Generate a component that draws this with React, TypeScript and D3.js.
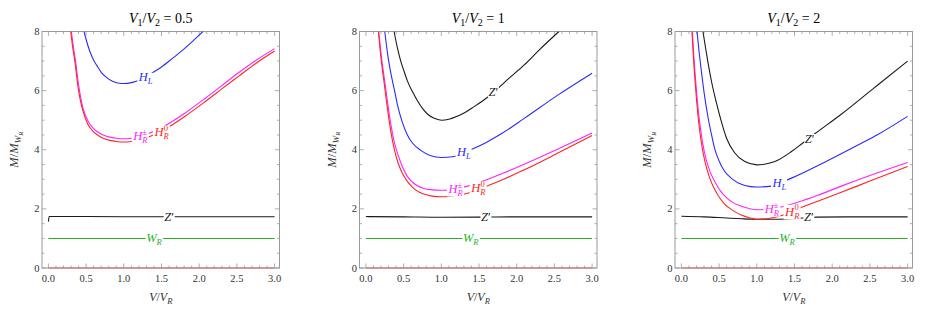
import * as d3 from "d3";
import { useEffect, useRef } from "react";

type Pt = [number, number];
type LabelKind = "HL" | "HRpm" | "HR0" | "Zp" | "WR";
interface CurveLabel {
  kind: LabelKind;
  x: number;
  y: number;
}

const ratios = ["0.5", "1", "2"];
const xTicks = [0, 0.5, 1, 1.5, 2, 2.5, 3];
const yTicks = [0, 2, 4, 6, 8];

// lines common to all panels
const zeroLine: Pt[] = [[0, 0], [3, 0]];
const wR: Pt[] = [[0, 1], [3, 1]];

// V1/V2 = 0.5
const hL05: Pt[] = [[0.473, 8.0], [0.5, 7.73], [0.548, 7.34], [0.6, 7.03], [0.637, 6.87], [0.7, 6.62], [0.769, 6.45], [0.85, 6.32], [0.92, 6.26], [1.0, 6.24], [1.1, 6.27], [1.165, 6.32], [1.25, 6.41], [1.385, 6.61], [1.5, 6.8], [1.65, 7.1], [1.8, 7.41], [1.9, 7.64], [2.0, 7.88], [2.05, 8.0]];
const hRpm05: Pt[] = [[0.305, 8.0], [0.33, 7.5], [0.36, 7.0], [0.4, 6.2], [0.43, 5.75], [0.46, 5.4], [0.52, 5.0], [0.59, 4.74], [0.68, 4.56], [0.77, 4.46], [0.88, 4.4], [1.0, 4.37], [1.1, 4.39], [1.2, 4.44], [1.3, 4.52], [1.4, 4.63], [1.58, 4.86], [1.8, 5.22], [2.09, 5.76], [2.3, 6.17], [2.53, 6.62], [2.75, 7.02], [3.0, 7.42]];
const hR0_05: Pt[] = [[0.297, 8.0], [0.32, 7.5], [0.35, 7.0], [0.394, 6.1], [0.425, 5.65], [0.46, 5.3], [0.52, 4.88], [0.59, 4.63], [0.68, 4.45], [0.77, 4.35], [0.88, 4.29], [1.0, 4.26], [1.1, 4.28], [1.2, 4.33], [1.3, 4.41], [1.4, 4.51], [1.58, 4.75], [1.8, 5.11], [2.09, 5.65], [2.3, 6.06], [2.53, 6.5], [2.75, 6.92], [3.0, 7.34]];
const zLow05: Pt[] = [[0, 1.57], [0.01, 1.74], [0.5, 1.74], [1.0, 1.735], [1.5, 1.735], [2.0, 1.735], [2.5, 1.735], [3.0, 1.735]];
const labels05: CurveLabel[] = [
  { kind: "HL", x: 1.29, y: 6.45 },
  { kind: "HRpm", x: 1.22, y: 4.45 },
  { kind: "HR0", x: 1.5, y: 4.6 },
  { kind: "Zp", x: 1.6, y: 1.73 },
  { kind: "WR", x: 1.4, y: 1.0 },
];

// V1/V2 = 1
const zHi1: Pt[] = [[0.374, 8.0], [0.42, 7.42], [0.462, 7.0], [0.5, 6.7], [0.55, 6.33], [0.62, 5.95], [0.683, 5.66], [0.75, 5.4], [0.816, 5.21], [0.9, 5.07], [1.0, 5.0], [1.1, 5.03], [1.21, 5.13], [1.32, 5.27], [1.43, 5.45], [1.6, 5.75], [1.745, 6.06], [1.9, 6.42], [2.1, 6.87], [2.3, 7.38], [2.56, 8.0]];
const hL1: Pt[] = [[0.25, 8.0], [0.29, 7.2], [0.33, 6.6], [0.38, 6.0], [0.42, 5.5], [0.48, 4.95], [0.55, 4.5], [0.62, 4.22], [0.727, 3.98], [0.86, 3.8], [1.0, 3.74], [1.17, 3.77], [1.39, 4.0], [1.59, 4.24], [1.79, 4.53], [2.1, 5.06], [2.54, 5.84], [3.0, 6.59]];
const hRpm1: Pt[] = [[0.17, 8.0], [0.205, 7.15], [0.245, 6.4], [0.285, 5.65], [0.335, 4.8], [0.385, 4.17], [0.43, 3.8], [0.48, 3.45], [0.55, 3.1], [0.62, 2.9], [0.683, 2.78], [0.77, 2.69], [0.86, 2.65], [1.0, 2.63], [1.1, 2.64], [1.2, 2.68], [1.35, 2.77], [1.59, 2.98], [1.85, 3.24], [2.1, 3.51], [2.54, 4.02], [3.0, 4.57]];
const hR0_1: Pt[] = [[0.166, 8.0], [0.2, 7.1], [0.24, 6.3], [0.28, 5.5], [0.33, 4.62], [0.38, 3.98], [0.418, 3.62], [0.48, 3.22], [0.55, 2.93], [0.62, 2.73], [0.683, 2.6], [0.77, 2.5], [0.86, 2.44], [1.0, 2.41], [1.1, 2.42], [1.2, 2.45], [1.35, 2.53], [1.59, 2.76], [1.85, 3.03], [2.1, 3.32], [2.54, 3.88], [3.0, 4.48]];
const zLow1: Pt[] = [[0, 1.74], [0.5, 1.73], [1.0, 1.715], [1.5, 1.72], [2.0, 1.73], [2.5, 1.73], [3.0, 1.73]];
const labels1: CurveLabel[] = [
  { kind: "Zp", x: 1.69, y: 5.97 },
  { kind: "HL", x: 1.3, y: 3.92 },
  { kind: "HRpm", x: 1.19, y: 2.67 },
  { kind: "HR0", x: 1.49, y: 2.7 },
  { kind: "Zp", x: 1.59, y: 1.72 },
  { kind: "WR", x: 1.39, y: 1.0 },
];

// V1/V2 = 2
const zHi2: Pt[] = [[0.286, 8.0], [0.32, 7.45], [0.353, 6.95], [0.4, 6.3], [0.463, 5.6], [0.53, 4.95], [0.6, 4.38], [0.706, 3.9], [0.84, 3.6], [1.0, 3.49], [1.1, 3.51], [1.24, 3.6], [1.46, 3.94], [1.61, 4.23], [1.77, 4.54], [2.12, 5.2], [2.56, 6.1], [3.0, 7.0]];
const hL2: Pt[] = [[0.207, 8.0], [0.235, 7.3], [0.265, 6.65], [0.3, 5.95], [0.353, 5.1], [0.4, 4.5], [0.44, 4.05], [0.5, 3.62], [0.57, 3.28], [0.68, 3.0], [0.795, 2.83], [0.9, 2.76], [1.0, 2.74], [1.19, 2.77], [1.46, 3.04], [1.9, 3.58], [2.4, 4.24], [2.6, 4.51], [3.0, 5.13]];
const hRpm2: Pt[] = [[0.145, 8.0], [0.165, 7.15], [0.185, 6.45], [0.205, 5.85], [0.225, 5.3], [0.25, 4.78], [0.28, 4.25], [0.33, 3.65], [0.39, 3.2], [0.46, 2.84], [0.52, 2.6], [0.57, 2.45], [0.68, 2.22], [0.795, 2.09], [0.9, 2.01], [1.0, 1.97], [1.2, 2.0], [1.35, 2.08], [1.55, 2.23], [1.8, 2.45], [2.12, 2.77], [2.5, 3.13], [3.0, 3.57]];
const hR0_2: Pt[] = [[0.14, 8.0], [0.16, 7.1], [0.18, 6.35], [0.2, 5.7], [0.22, 5.15], [0.242, 4.65], [0.275, 4.08], [0.31, 3.62], [0.37, 3.08], [0.44, 2.66], [0.5, 2.4], [0.57, 2.17], [0.68, 1.95], [0.795, 1.79], [0.9, 1.7], [1.0, 1.65], [1.19, 1.69], [1.35, 1.79], [1.54, 2.0], [1.8, 2.25], [2.12, 2.56], [2.5, 2.94], [3.0, 3.43]];
const zLow2: Pt[] = [[0, 1.75], [0.3, 1.73], [0.6, 1.69], [0.8, 1.665], [1.0, 1.65], [1.2, 1.65], [1.4, 1.66], [1.6, 1.69], [1.8, 1.72], [2.2, 1.73], [3.0, 1.73]];
const labels2: CurveLabel[] = [
  { kind: "Zp", x: 1.7, y: 4.38 },
  { kind: "HL", x: 1.3, y: 2.87 },
  { kind: "HRpm", x: 1.2, y: 1.99 },
  { kind: "HR0", x: 1.47, y: 1.9 },
  { kind: "Zp", x: 1.69, y: 1.71 },
  { kind: "WR", x: 1.4, y: 1.0 },
];

const colors: Record<string, string> = {
  zero: "#c86868",
  WR: "#22b422",
  Z: "#1a1a1a",
  HL: "#2a2aff",
  HRpm: "#ff22ff",
  HR0: "#ff2424",
};
const labelColor: Record<LabelKind, string> = {
  HL: colors.HL,
  HRpm: colors.HRpm,
  HR0: colors.HR0,
  Zp: colors.Z,
  WR: colors.WR,
};

const panels = [
  {
    ratio: ratios[0],
    curves: [
      { key: "zero", pts: zeroLine },
      { key: "WR", pts: wR },
      { key: "Z", pts: zLow05 },
      { key: "HL", pts: hL05 },
      { key: "HRpm", pts: hRpm05 },
      { key: "HR0", pts: hR0_05 },
    ],
    labels: labels05,
  },
  {
    ratio: ratios[1],
    curves: [
      { key: "zero", pts: zeroLine },
      { key: "WR", pts: wR },
      { key: "Z", pts: zLow1 },
      { key: "Z", pts: zHi1 },
      { key: "HL", pts: hL1 },
      { key: "HRpm", pts: hRpm1 },
      { key: "HR0", pts: hR0_1 },
    ],
    labels: labels1,
  },
  {
    ratio: ratios[2],
    curves: [
      { key: "zero", pts: zeroLine },
      { key: "WR", pts: wR },
      { key: "Z", pts: zLow2 },
      { key: "Z", pts: zHi2 },
      { key: "HL", pts: hL2 },
      { key: "HRpm", pts: hRpm2 },
      { key: "HR0", pts: hR0_2 },
    ],
    labels: labels2,
  },
];

const W = 926;
const H = 317;
const frameLeft = [42, 359.5, 675];
const frameW = 237.5;
const frameTop = 31.5;
const frameBottom = 268;
const axisGray = "#9a9a9a";

function LabelSpans({ kind }: { kind: LabelKind }) {
  const it = { fontStyle: "italic" as const };
  if (kind === "HL")
    return (
      <>
        <tspan {...it}>H</tspan>
        <tspan {...it} fontSize={8.5} dy={3}>L</tspan>
      </>
    );
  if (kind === "HRpm")
    return (
      <>
        <tspan {...it}>H</tspan>
        <tspan {...it} fontSize={8.5} dy={3}>R</tspan>
        <tspan fontSize={8.5} dx={-5.2} dy={-8.5}>±</tspan>
      </>
    );
  if (kind === "HR0")
    return (
      <>
        <tspan {...it}>H</tspan>
        <tspan {...it} fontSize={8.5} dy={3}>R</tspan>
        <tspan fontSize={8.5} dx={-4.8} dy={-8.5}>0</tspan>
      </>
    );
  if (kind === "WR")
    return (
      <>
        <tspan {...it}>W</tspan>
        <tspan {...it} fontSize={8.5} dy={3}>R</tspan>
      </>
    );
  return (
    <>
      <tspan {...it}>Z</tspan>
      <tspan>′</tspan>
    </>
  );
}

function Panel({ idx, panel }: { idx: number; panel: (typeof panels)[number] }) {
  const left = frameLeft[idx];
  const right = left + frameW;
  const x = d3.scaleLinear([-0.085, 3.065], [left, right]);
  const y = d3.scaleLinear([0, 8], [frameBottom, frameTop]);
  const line = d3
    .line<Pt>()
    .x((d) => x(d[0]))
    .y((d) => y(d[1]))
    .curve(d3.curveMonotoneX);
  const xMinor = d3.range(0, 3.0001, 0.1);
  const yMinor = d3.range(0, 8.0001, 0.5);
  const cx = (left + right) / 2;
  const clipId = `clip-${idx}`;

  return (
    <g>
      <defs>
        <clipPath id={clipId}>
          <rect x={left} y={frameTop} width={frameW} height={frameBottom - frameTop + 1} />
        </clipPath>
      </defs>
      <text x={cx} y={22.5} textAnchor="middle" fontSize={14}>
        <tspan fontStyle="italic">V</tspan>
        <tspan fontSize={10} dy={3.5}>1</tspan>
        <tspan dy={-3.5}>/</tspan>
        <tspan fontStyle="italic">V</tspan>
        <tspan fontSize={10} dy={3.5}>2</tspan>
        <tspan dy={-3.5}>{` = ${panel.ratio}`}</tspan>
      </text>
      <rect x={left} y={frameTop} width={frameW} height={frameBottom - frameTop} fill="none" stroke={axisGray} strokeWidth={1} />
      {xMinor.map((v, i) => {
        const major = i % 5 === 0;
        const len = major ? 4.5 : 2.5;
        return (
          <g key={`xt${i}`} stroke={axisGray} strokeWidth={0.8}>
            <line x1={x(v)} x2={x(v)} y1={frameBottom} y2={frameBottom - len} />
            <line x1={x(v)} x2={x(v)} y1={frameTop} y2={frameTop + len} />
          </g>
        );
      })}
      {yMinor.map((v, i) => {
        const major = i % 4 === 0;
        const len = major ? 4.5 : 2.5;
        return (
          <g key={`yt${i}`} stroke={axisGray} strokeWidth={0.8}>
            <line x1={left} x2={left + len} y1={y(v)} y2={y(v)} />
            <line x1={right} x2={right - len} y1={y(v)} y2={y(v)} />
          </g>
        );
      })}
      {xTicks.map((v) => (
        <text key={`xl${v}`} x={x(v)} y={281.5} textAnchor="middle" fontSize={10.5} fill="#333">
          {v.toFixed(1)}
        </text>
      ))}
      {yTicks.map((v) => (
        <text key={`yl${v}`} x={left - 2.5} y={y(v) + 3.5} textAnchor="end" fontSize={10.5} fill="#333">
          {v}
        </text>
      ))}
      <text x={cx} y={300.5} textAnchor="middle" fontSize={12} fill="#333">
        <tspan fontStyle="italic">V</tspan>
        <tspan>/</tspan>
        <tspan fontStyle="italic">V</tspan>
        <tspan fontStyle="italic" fontSize={8.5} dy={3}>R</tspan>
      </text>
      <text transform={`translate(${left - 24},${(frameTop + frameBottom) / 2}) rotate(-90)`} textAnchor="middle" fontSize={12.5} fill="#333">
        <tspan fontStyle="italic">M</tspan>
        <tspan>/</tspan>
        <tspan fontStyle="italic">M</tspan>
        <tspan fontStyle="italic" fontSize={9} dy={3}>W</tspan>
        <tspan fontStyle="italic" fontSize={6.5} dy={1.5}>R</tspan>
      </text>
      <g clipPath={`url(#${clipId})`}>
        {panel.curves.map((c, i) => (
          <path key={`c${i}`} d={line(c.pts) ?? ""} fill="none" stroke={colors[c.key]} strokeWidth={1.1} />
        ))}
      </g>
      <g>
        {panel.labels.map((l, i) => (
          <rect key={`lr${i}`} data-id={`${idx}-${i}`} fill="#fff" />
        ))}
      </g>
      <g>
        {panel.labels.map((l, i) => (
          <text
            key={`lt${i}`}
            className="clabel"
            data-id={`${idx}-${i}`}
            x={x(l.x)}
            y={y(l.y) + 4}
            textAnchor="middle"
            fontSize={12.5}
            fill={labelColor[l.kind]}
          >
            <LabelSpans kind={l.kind} />
          </text>
        ))}
      </g>
    </g>
  );
}

export default function App() {
  const svgRef = useRef<SVGSVGElement>(null);

  useEffect(() => {
    const svg = d3.select(svgRef.current);
    svg.selectAll<SVGTextElement, unknown>("text.clabel").each(function () {
      const b = this.getBBox();
      const id = this.getAttribute("data-id");
      svg
        .select(`rect[data-id='${id}']`)
        .attr("x", b.x - 0.5)
        .attr("y", b.y + 2.5)
        .attr("width", b.width + 1)
        .attr("height", Math.max(0, b.height - 4));
    });
  }, []);

  return (
    <svg
      ref={svgRef}
      width={W}
      height={H}
      style={{ position: "absolute", left: 0, top: 0, background: "#fff" }}
      fontFamily="'Liberation Serif', 'DejaVu Serif', serif"
    >
      {panels.map((p, i) => (
        <Panel key={i} idx={i} panel={p} />
      ))}
    </svg>
  );
}
